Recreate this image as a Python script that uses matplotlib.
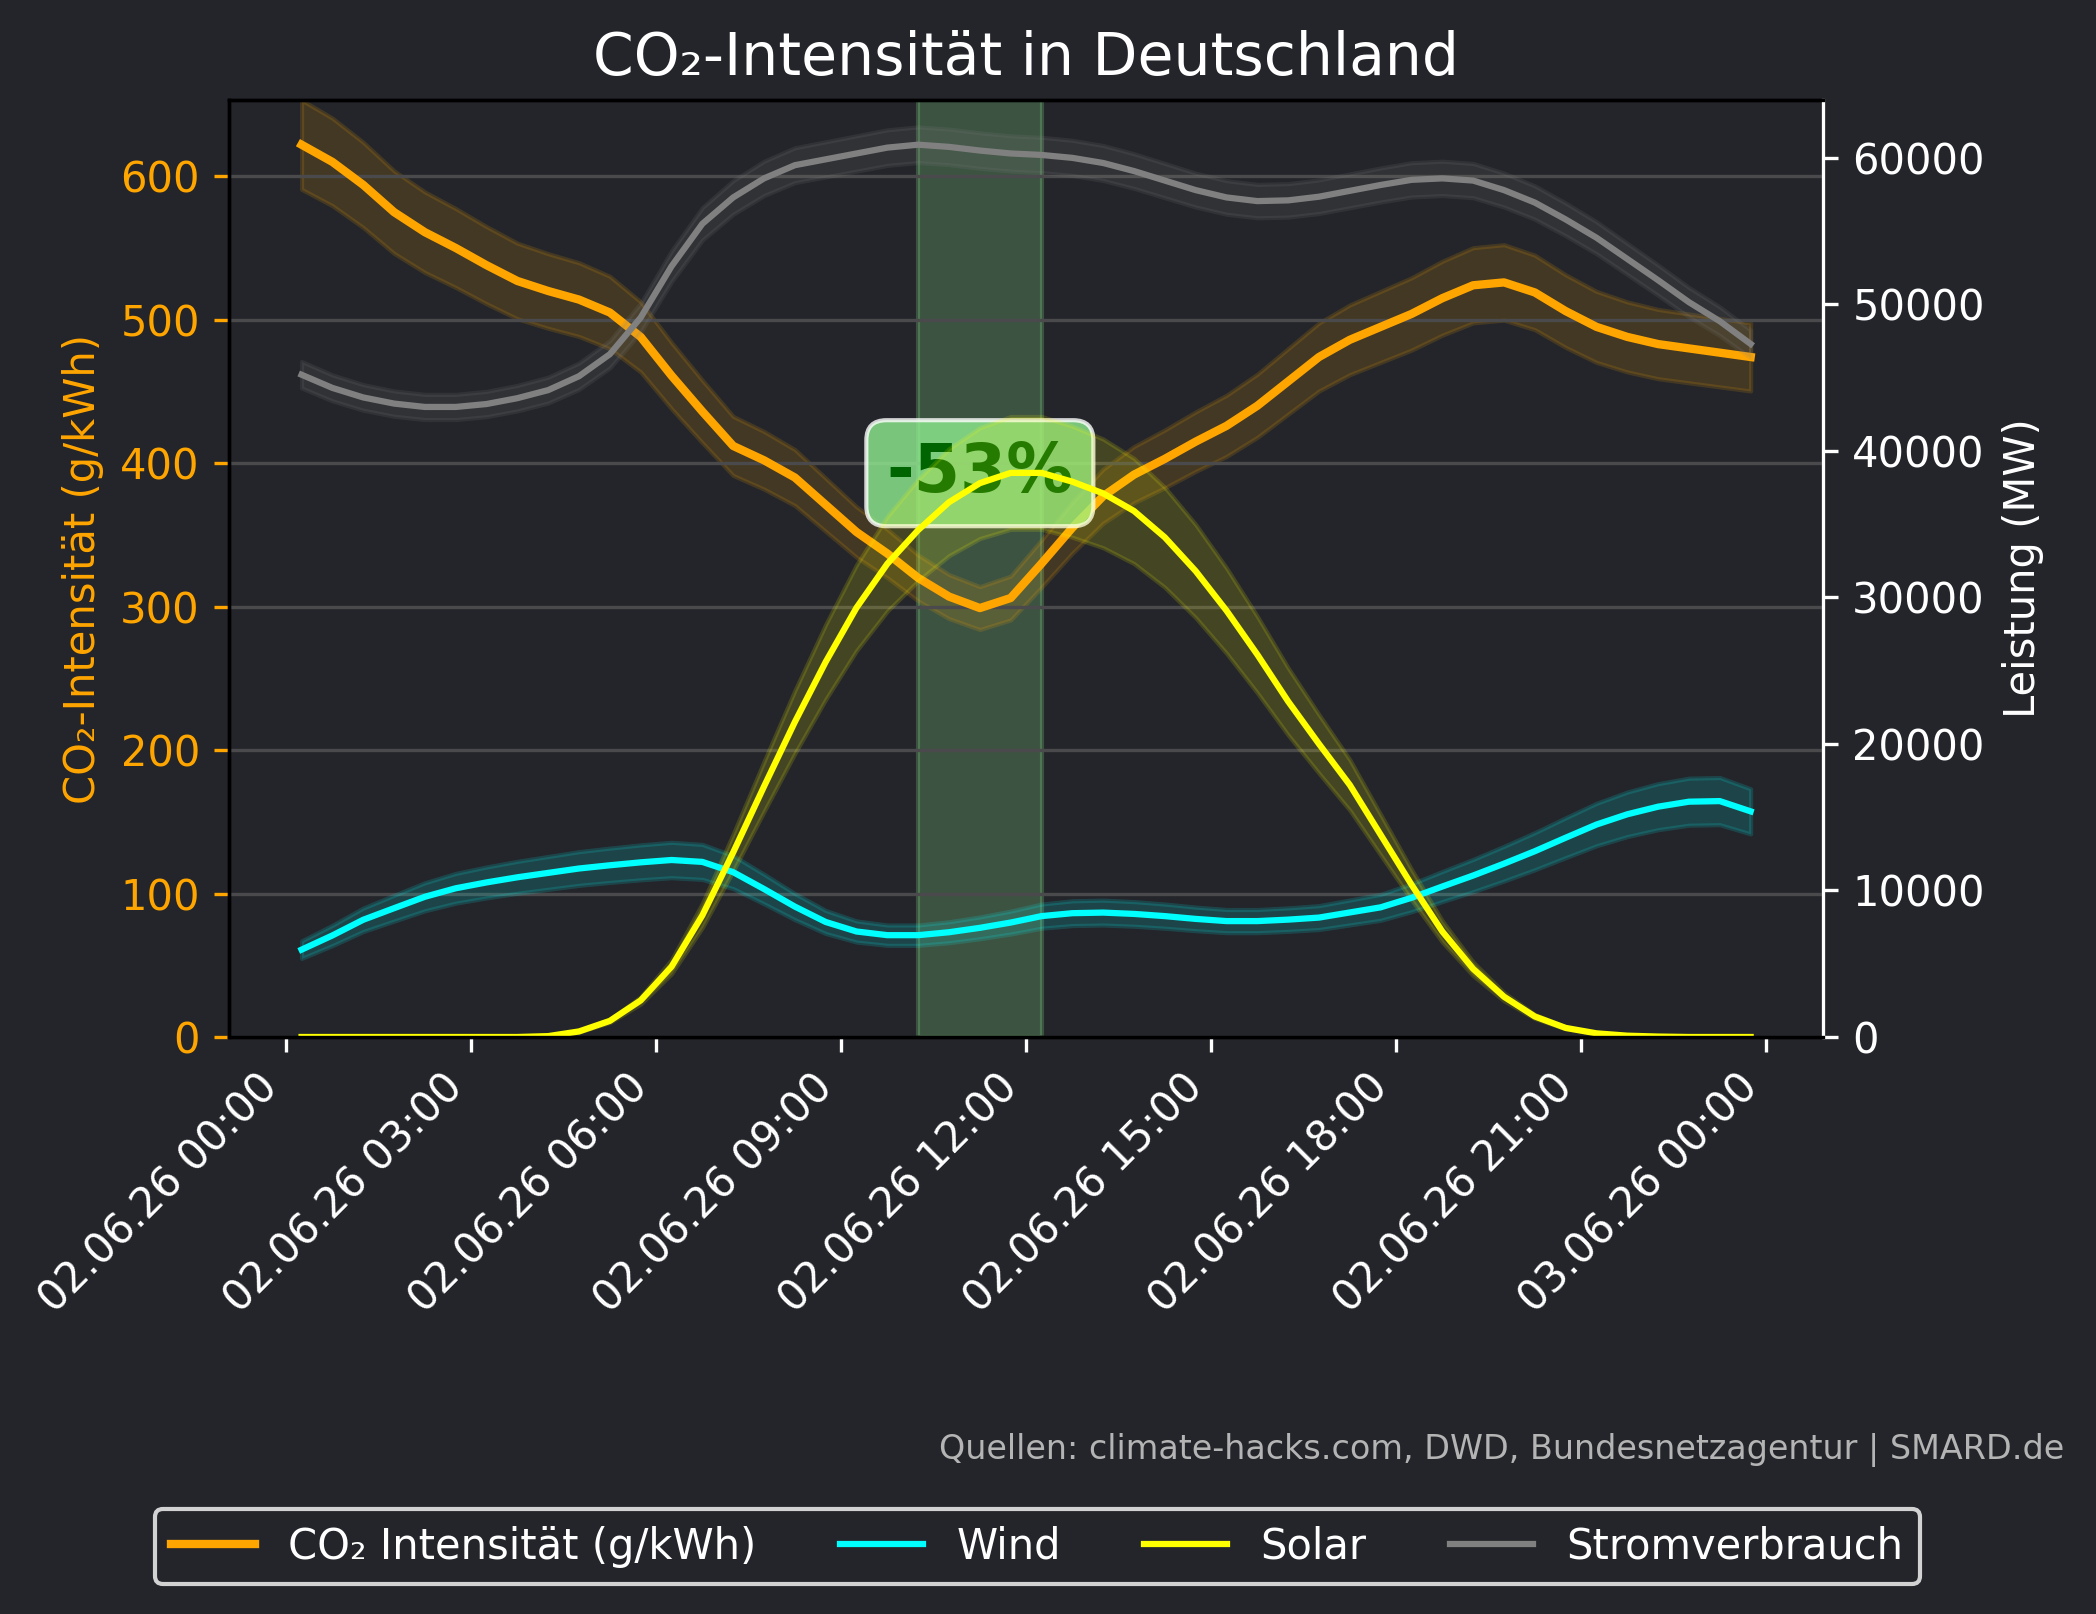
import numpy as np
import pandas as pd
import matplotlib
matplotlib.use("Agg")
import matplotlib.pyplot as plt
import matplotlib.dates as mdates

# half-hourly values, 02.06.26 00:15 .. 23:45
times = pd.date_range("2026-06-02 00:15", "2026-06-02 23:45", freq="30min")

co2 = [622, 610, 594, 575, 561, 550, 538, 527, 520, 514, 505, 488,
       461, 436, 412, 402, 390, 371, 352, 337, 320, 307, 299, 306,
       330, 355, 377, 392, 403, 415, 426, 440, 457, 474, 486, 495,
       504, 515, 524, 526, 519, 506, 495, 488, 483, 480, 477, 474]

wind = [5960, 6930, 8000, 8790, 9570, 10150, 10550, 10900, 11200, 11500, 11720, 11920,
        12080, 11950, 11250, 10100, 8900, 7850, 7200, 6950, 6950, 7150, 7450, 7810,
        8250, 8450, 8490, 8400, 8250, 8060, 7910, 7910, 8010, 8150, 8500, 8850,
        9500, 10270, 11020, 11830, 12680, 13600, 14500, 15200, 15720, 16060, 16100, 15400]

solar = [0, 0, 0, 0, 0, 0, 0, 0, 60, 380, 1100, 2500,
         4800, 8300, 12600, 17100, 21500, 25600, 29300, 32300, 34600, 36500, 37800, 38500,
         38500, 37900, 37100, 35900, 34100, 31800, 29100, 26100, 22900, 20000, 17200, 13800,
         10400, 7200, 4650, 2750, 1400, 620, 250, 90, 30, 0, 0, 0]

strom = [45200, 44300, 43650, 43230, 43000, 43000, 43200, 43600, 44150, 45100, 46600, 49100,
         52600, 55500, 57300, 58600, 59500, 59900, 60300, 60700, 60900, 60750, 60500, 60300,
         60200, 60000, 59650, 59100, 58450, 57800, 57300, 57050, 57100, 57350, 57750, 58150,
         58500, 58600, 58450, 57800, 56950, 55800, 54550, 53100, 51650, 50150, 48850, 47300]

# relative uncertainty of each series
unc_co2 = 0.05
unc_wind = 0.10
unc_solar = 0.10
unc_strom = 0.02

span_start = pd.Timestamp("2026-06-02 10:15")
span_end = pd.Timestamp("2026-06-02 12:15")
reduction_label = "-53%"

co2 = np.array(co2, dtype=float)
wind = np.array(wind, dtype=float)
solar = np.array(solar, dtype=float)
strom = np.array(strom, dtype=float)

bg = '#23252a'
fig = plt.figure(figsize=(2096 / 300, 1614 / 300), dpi=300, facecolor=bg)
ax = fig.add_axes([0.1093, 0.3575, 0.7605, 0.5805])
ax.set_facecolor(bg)
ax2 = ax.twinx()

ax.axvspan(span_start, span_end, color='lightgreen', alpha=0.23)

l1, = ax.plot(times, co2, color='orange', lw=2, label='CO₂ Intensität (g/kWh)')
ax.fill_between(times, co2 * (1 - unc_co2), co2 * (1 + unc_co2), color='orange', alpha=0.15)

ax.text(span_start + (span_end - span_start) / 2, 393, reduction_label,
        ha='center', va='center', fontsize=16, fontweight='bold', color='darkgreen',
        bbox=dict(boxstyle='round', facecolor='lightgreen', edgecolor='white', alpha=0.8))

l2, = ax2.plot(times, wind, color='cyan', lw=1.5, label='Wind')
ax2.fill_between(times, wind * (1 - unc_wind), wind * (1 + unc_wind), color='cyan', alpha=0.15)
l3, = ax2.plot(times, solar, color='yellow', lw=1.5, label='Solar')
ax2.fill_between(times, solar * (1 - unc_solar), solar * (1 + unc_solar), color='yellow', alpha=0.15)
l4, = ax2.plot(times, strom, color='gray', lw=1.5, label='Stromverbrauch')
ax2.fill_between(times, strom * (1 - unc_strom), strom * (1 + unc_strom), color='gray', alpha=0.15)

ax.set_ylim(0, co2.max() * 1.05)
ax2.set_ylim(0, strom.max() * 1.05)

ax.grid(axis='y', color='#4a4a4c', lw=0.8)
ax.xaxis.set_major_locator(mdates.HourLocator(byhour=range(0, 24, 3)))
ax.xaxis.set_major_formatter(mdates.DateFormatter('%d.%m.%y %H:%M'))
plt.setp(ax.get_xticklabels(), rotation=45, ha='right')

ax.tick_params(axis='y', colors='orange')
ax.tick_params(axis='x', colors='white')
ax2.tick_params(axis='y', colors='white')
ax2.spines['right'].set_color('white')

ax.set_ylabel('CO₂-Intensität (g/kWh)', color='orange')
ax2.set_ylabel('Leistung (MW)', color='white')
ax.set_title('CO₂-Intensität in Deutschland', color='white', fontsize=14)

fig.legend([l1, l2, l3, l4], [l.get_label() for l in [l1, l2, l3, l4]],
           loc='center', bbox_to_anchor=(0.495, 0.0418), ncol=4,
           facecolor=bg, edgecolor='white', labelcolor='white', fontsize=10)

fig.text(0.985, 0.1016, 'Quellen: climate-hacks.com, DWD, Bundesnetzagentur | SMARD.de',
         ha='right', va='center', color='#b4b4b4', fontsize=8)

fig.savefig('out.png', dpi=300, facecolor=bg)
